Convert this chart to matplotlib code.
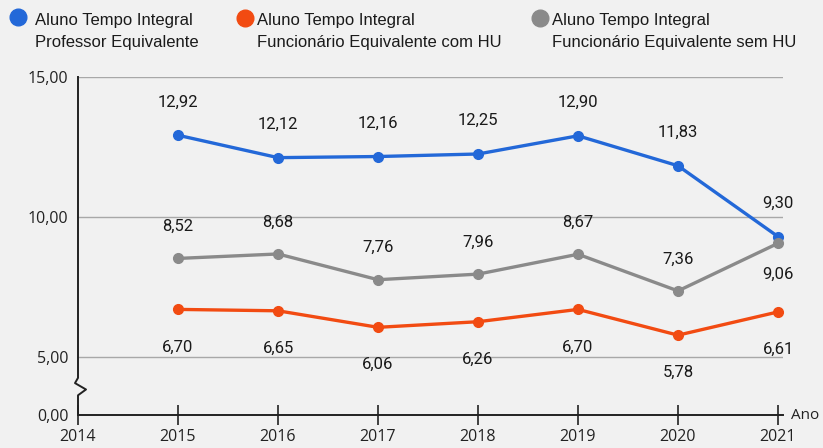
import numpy as np
import matplotlib
matplotlib.use("Agg")
import matplotlib.pyplot as plt
from matplotlib.lines import Line2D

years = [2015, 2016, 2017, 2018, 2019, 2020, 2021]
x_ticks = [2014, 2015, 2016, 2017, 2018, 2019, 2020, 2021]
y_ticks = [0, 5, 10, 15]
prof_equiv = [12.92, 12.12, 12.16, 12.25, 12.90, 11.83, 9.30]
func_com_hu = [6.70, 6.65, 6.06, 6.26, 6.70, 5.78, 6.61]
func_sem_hu = [8.52, 8.68, 7.76, 7.96, 8.67, 7.36, 9.06]
legend_labels = ["Aluno Tempo Integral\nProfessor Equivalente",
                 "Aluno Tempo Integral\nFuncionário Equivalente com HU",
                 "Aluno Tempo Integral\nFuncionário Equivalente sem HU"]

BLUE = "#2368d8"
RED = "#f24b12"
GREY = "#8a8a8a"
BG = "#f1f1f1"

K = 58.0 / 140.0  # compression below 5 (broken axis)


def fwd(y):
    y = np.asarray(y, dtype=float)
    return np.where(y >= 5, y, 5 - (5 - y) * K)


def inv(z):
    z = np.asarray(z, dtype=float)
    return np.where(z >= 5, z, 5 - (5 - z) / K)


def fmt(v):
    return f"{v:.2f}".replace(".", ",")


fig = plt.figure(figsize=(8.23, 4.48), dpi=100, facecolor=BG)
ax = fig.add_axes([78 / 823, 1 - 415 / 448, 705 / 823, (415 - 77) / 448])
ax.set_facecolor("none")
ax.set_yscale("function", functions=(fwd, inv))
ax.set_xlim(2014, 2021.05)
ax.set_ylim(0, 15)

for s in ax.spines.values():
    s.set_visible(False)

# gridlines
for yv in [5, 10, 15]:
    ax.axhline(yv, color="#a8a8a8", lw=1.0, zorder=1)

# x axis line
ax.plot([0, 1], [0, 0], transform=ax.get_yaxis_transform(), color="#222222",
        lw=1.4, clip_on=False, zorder=2)

# y axis with break zigzag
dx = 1.0 / 705.0
ytr = ax.get_yaxis_transform()
zz_x = [0, 0, -3 * dx, 8 * dx, 0, 0]
zz_y = [15, 3.2, 2.75, 2.2, 1.7, 0]
ax.plot(zz_x, zz_y, transform=ytr, color="#222222", lw=1.4,
        clip_on=False, zorder=2)

ax.set_xticks(x_ticks)
ax.set_xticklabels([str(v) for v in x_ticks], fontfamily="Open Sans",
                   fontsize=11.5, color="#222222")
ax.tick_params(axis="x", direction="inout", length=14, width=1.2,
               color="#222222", pad=3)
ax.set_yticks(y_ticks)
ax.set_yticklabels([fmt(v) for v in y_ticks], fontfamily="Open Sans",
                   fontsize=11.5, color="#222222")
ax.tick_params(axis="y", length=0, pad=7)

ax.text(1.0, 0, "  Ano", transform=ytr, fontfamily="Open Sans",
        fontsize=11, va="center", ha="left", color="#222222")

series = [
    (prof_equiv, BLUE, [24] * 7),
    (func_com_hu, RED, [-27] * 7),
    (func_sem_hu, GREY, [23, 23, 23, 23, 23, 23, -22]),
]
for vals, col, offs in series:
    ax.plot(years, vals, color=col, lw=2.4, marker="o", markersize=7,
            zorder=3, clip_on=False)
    for xv, yv, off in zip(years, vals, offs):
        ax.annotate(fmt(yv), (xv, yv), xytext=(0, off),
                    textcoords="offset points", ha="center", va="center",
                    fontfamily="Roboto", fontsize=12, color="#1a1a1a",
                    zorder=4)

# legend at top
leg_pos = [(18, 17, 35), (245, 18, 257), (540, 18, 552)]
cols = [BLUE, RED, GREY]
leg_font = ["Liberation Sans Narrow", "Liberation Sans"]
for (cx, cy, tx), col, lab in zip(leg_pos, cols, legend_labels):
    fig.add_artist(Line2D([cx / 823], [1 - cy / 448], marker="o",
                          markersize=12, color=col, transform=fig.transFigure))
    l1, l2 = lab.split("\n")
    fig.text(tx / 823, 1 - 20 / 448, l1, fontfamily=leg_font, fontsize=12,
             va="center", ha="left", color="#1a1a1a")
    fig.text(tx / 823, 1 - 43 / 448, l2, fontfamily=leg_font, fontsize=12,
             va="center", ha="left", color="#1a1a1a")

fig.savefig("out.png", dpi=100, facecolor=BG)
